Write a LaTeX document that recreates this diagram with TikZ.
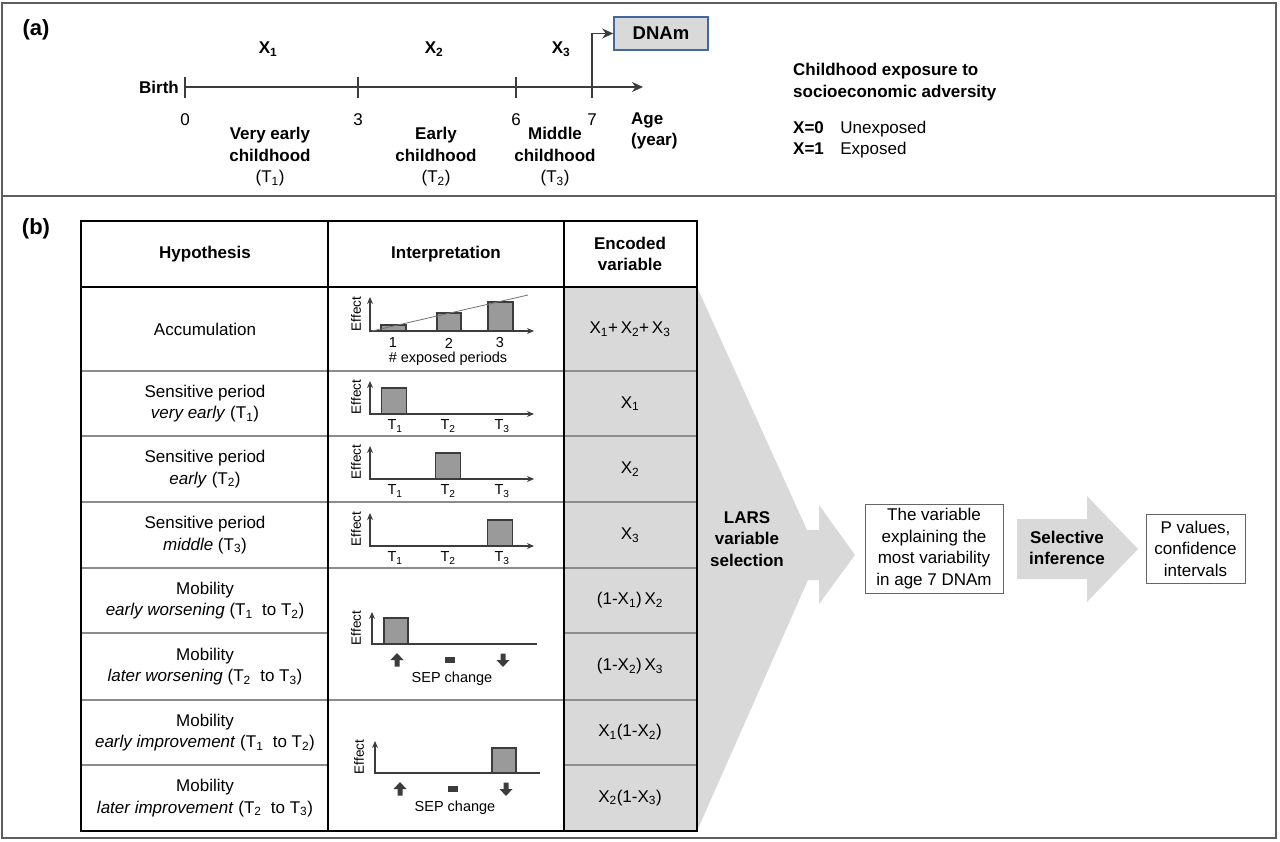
\documentclass[tikz,border=0pt]{standalone}
\usepackage{fontspec}
\setmainfont{Liberation Sans}
\usetikzlibrary{positioning, arrows.meta}
\definecolor{cellgray}{HTML}{D9D9D9}
\definecolor{bargray}{HTML}{9A9A9A}
\definecolor{axisgray}{HTML}{3C3C3C}
\definecolor{framegray}{HTML}{5E5E5E}
\definecolor{dnamblue}{HTML}{44679E}
\tikzset{
	>={Stealth[length=11pt,width=10pt]}, % puntas de flecha
	txt/.style={font=\fontsize{17}{21.5}\selectfont, align=center, inner sep=0pt}, % texto normal
	bold/.style={txt, font=\fontsize{17}{21.5}\selectfont\bfseries}, % texto en negrita
	panellabel/.style={font=\fontsize{22}{26}\selectfont\bfseries, inner sep=0pt}, % (a), (b)
	small/.style={font=\fontsize{14.5}{16}\selectfont, inner sep=0pt}, % textos de los graficos
	effect/.style={font=\fontsize{13.5}{15}\selectfont, inner sep=0pt, rotate=90}, % eje vertical
	panelframe/.style={draw=framegray, line width=2pt}, % marco
	tline/.style={line width=1.8pt, draw=axisgray}, % linea de tiempo
	tabline/.style={line width=1.3pt, draw=black}, % bordes de la tabla
	rowline/.style={line width=1.1pt, draw=black!45}, % filas
	chartaxis/.style={line width=1.4pt, draw=axisgray, >={Stealth[length=7pt,width=6pt]}}, % ejes
	chartbar/.style={draw=axisgray, fill=bargray, line width=1.3pt}, % barras
	trend/.style={draw=black!55, line width=0.8pt}, % tendencia
	box/.style={txt, draw=black!60, line width=1pt, fill=white}, % cajas
	dnambox/.style={bold, font=\fontsize{18.5}{22}\selectfont\bfseries, draw=dnamblue, fill=cellgray, line width=1.6pt, minimum width=94, minimum height=33} % caja DNAm
}

\begin{document}
\begin{tikzpicture}[x=1pt, y=-1pt]
	\useasboundingbox (0,0) rectangle (1280,842);
	\draw[panelframe] (2,3) rectangle (1276,838);
	\draw[panelframe] (2,196) -- (1276,196);
	\node[panellabel] (pa) at (36,30) {(a)};
	\node[panellabel] (pb) at (36,229) {(b)};

	% (a) linea de tiempo
	\node[dnambox] (dnam) at (661,33.5) {DNAm};
	\coordinate (tend) at (643,87);
	\coordinate (t7b) at (592,98);
	\foreach \a/\x in {0/185, 3/358, 6/516, 7/592}{
		\coordinate (t\a) at (\x,87);
		\draw[tline] (\x,77) -- (\x,98);
		\node[txt] (n\a) at (\x,120) {\a};
	}
	\draw[tline, ->] (t0) -- (tend);
	\draw[tline, ->] (t7b) |- (dnam.west);
	\node[bold, anchor=east] (birth) at (179,87) {Birth};
	\node[bold] (x1) at (268,49) {X\textsubscript{1}};
	\node[bold] (x2) at (434,49) {X\textsubscript{2}};
	\node[bold] (x3) at (561,49) {X\textsubscript{3}};
	\node[bold] (per1) at (270,157) {Very early\\childhood\\\mdseries(T\textsubscript{1})};
	\node[bold] (per2) at (436,157) {Early\\childhood\\\mdseries(T\textsubscript{2})};
	\node[bold] (per3) at (555,157) {Middle\\childhood\\\mdseries(T\textsubscript{3})};
	\node[bold, anchor=west, align=left] (age) at (631,131) {Age\\(year)};

	% (a) leyenda
	\node[bold, anchor=west, align=left] (leg) at (793,82) {Childhood exposure to\\socioeconomic adversity};
	\node[bold, anchor=base west] (x0) at (793,134) {X=0};
	\node[txt, anchor=base west] (unexp) at ([xshift=16pt]x0.base east) {Unexposed};
	\node[bold, anchor=base west] (xone) at (793,155) {X=1};
	\node[txt, anchor=base west] (exp) at ([xshift=16pt]xone.base east) {Exposed};

	% (b) tabla
	\fill[cellgray] (564,287) rectangle (697,831);
	\fill[cellgray] (697,287) -- (807,530) -- (819,530) -- (819,505) -- (855,555) -- (819,604)
		-- (819,580) -- (808,580) -- (697,831) -- cycle;
	\foreach \y in {371,436,502,568,700}
		\draw[rowline] (81,\y) -- (697,\y);
	\foreach \y in {633,765}{
		\draw[rowline] (81,\y) -- (328,\y);
		\draw[rowline] (564,\y) -- (697,\y);
	}
	\draw[tabline] (81,287) -- (697,287);
	\draw[tabline] (328,221) -- (328,831);
	\draw[tabline] (564,221) -- (564,831);
	\draw[tabline] (81,221) rectangle (697,831);

	\node[bold] (hhyp) at (205,254) {Hypothesis};
	\node[bold] (hint) at (446,254) {Interpretation};
	\node[bold] (henc) at (630,254) {Encoded\\variable};

	\node[txt] (hyp1) at (205,329) {Accumulation};
	\node[txt] (hyp2) at (205,403.5) {Sensitive period\\\textit{very early} (T\textsubscript{1})};
	\node[txt] (hyp3) at (205,469) {Sensitive period\\\textit{early} (T\textsubscript{2})};
	\node[txt] (hyp4) at (205,535) {Sensitive period\\\textit{middle} (T\textsubscript{3})};
	\node[txt] (hyp5) at (205,600.5) {Mobility\\\textit{early worsening} (T\textsubscript{1}\ \ to T\textsubscript{2})};
	\node[txt] (hyp6) at (205,666.5) {Mobility\\\textit{later worsening} (T\textsubscript{2}\ \ to T\textsubscript{3})};
	\node[txt] (hyp7) at (205,732.5) {Mobility\\\textit{early improvement} (T\textsubscript{1}\ \ to T\textsubscript{2})};
	\node[txt] (hyp8) at (205,798) {Mobility\\\textit{later improvement} (T\textsubscript{2}\ \ to T\textsubscript{3})};

	\node[txt] (enc1) at (630,329) {X\textsubscript{1}+\,X\textsubscript{2}+\,X\textsubscript{3}};
	\node[txt] (enc2) at (630,403.5) {X\textsubscript{1}};
	\node[txt] (enc3) at (630,469) {X\textsubscript{2}};
	\node[txt] (enc4) at (630,535) {X\textsubscript{3}};
	\node[txt] (enc5) at (630,600.5) {(1-X\textsubscript{1})\,X\textsubscript{2}};
	\node[txt] (enc6) at (630,666.5) {(1-X\textsubscript{2})\,X\textsubscript{3}};
	\node[txt] (enc7) at (630,732.5) {X\textsubscript{1}(1-X\textsubscript{2})};
	\node[txt] (enc8) at (630,798) {X\textsubscript{2}(1-X\textsubscript{3})};

	% graficos de interpretacion
	\draw[chartaxis, <->] (370,297) |- (534,331);
	\draw[chartbar] (381,331) rectangle (406,325);
	\draw[chartbar] (437,331) rectangle (461,313);
	\draw[chartbar] (488,331) rectangle (513,302);
	\draw[trend] (372,331) -- (528,295);
	\node[effect] (eff1) at (356,314) {Effect};
	\node[small] (k1) at (393,343) {1};
	\node[small] (k2) at (449,343) {2};
	\node[small] (k3) at (500,343) {3};
	\node[small] (kper) at (448,359) {\# exposed periods};

	\foreach \y/\bx/\r in {414/394/2, 479/448/3, 546/500/4}{
		\draw[chartaxis, <->] (370,\y-33) |- (534,\y);
		\draw[chartbar] (\bx-12.5,\y) rectangle (\bx+12.5,\y-26);
		\node[effect] (eff\r) at (356,\y-17) {Effect};
		\node[small] (ta\r) at (395,\y+12) {T\textsubscript{1}};
		\node[small] (tb\r) at (448,\y+12) {T\textsubscript{2}};
		\node[small] (tc\r) at (502,\y+12) {T\textsubscript{3}};
	}

	\draw[chartbar] (384,644) rectangle (408,618);
	\draw[chartbar] (492,773) rectangle (516,748);
	\foreach \dx/\dy/\r in {0/0/5, 3/129/6}{
		\draw[chartaxis, <-] (372+\dx,612+\dy) |- (537+\dx,644+\dy);
		\node[effect] (eff\r) at (356+\dx,628+\dy) {Effect};
		\fill[axisgray] (397+\dx,653+\dy) -- ++(6.5,7) -- ++(-4,0) -- ++(0,6.5) -- ++(-5,0) -- ++(0,-6.5) -- ++(-4,0) -- cycle;
		\fill[axisgray] (445+\dx,657+\dy) rectangle (455+\dx,662.5+\dy);
		\fill[axisgray] (503+\dx,667+\dy) -- ++(6.5,-7) -- ++(-4,0) -- ++(0,-6.5) -- ++(-5,0) -- ++(0,6.5) -- ++(-4,0) -- cycle;
		\node[small] (sep\r) at (452+\dx,679+\dy) {SEP change};
	}

	% seleccion e inferencia
	\node[bold] (lars) at (747,539) {LARS\\variable\\selection};
	\node[box, minimum width=138, minimum height=89] (best) at (934,548.5) {The variable\\explaining the\\most variability\\in age 7 DNAm};
	\fill[cellgray] (1017,519) -- (1087,519) -- (1087,496) -- (1138,549) -- (1087,602) -- (1087,579) -- (1017,579) -- cycle;
	\node[bold] (sel) at (1067,548) {Selective\\inference};
	\node[box, minimum width=99, minimum height=69] (pval) at (1195.5,548.5) {P values,\\confidence\\intervals};
\end{tikzpicture}
\end{document}
